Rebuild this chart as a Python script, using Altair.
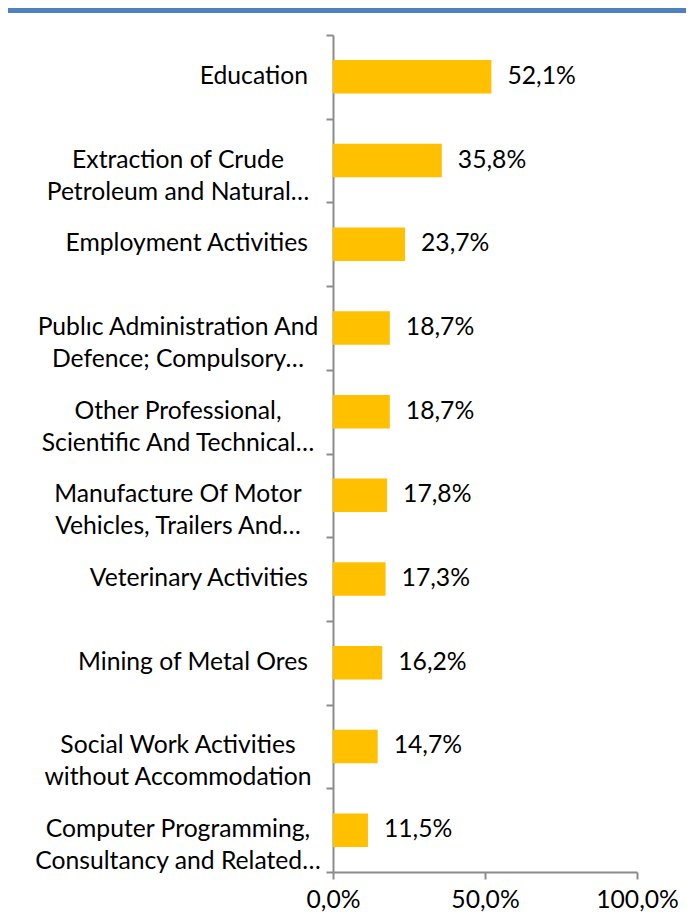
import altair as alt
import pandas as pd

categories = [
    "Education",
    "Extraction of Crude\nPetroleum and Natural…",
    "Employment Activities",
    "Publıc Administration And\nDefence; Compulsory…",
    "Other Professional,\nScientific And Technical…",
    "Manufacture Of Motor\nVehicles, Trailers And…",
    "Veterinary Activities",
    "Mining of Metal Ores",
    "Social Work Activities\nwithout Accommodation",
    "Computer Programming,\nConsultancy and Related…",
]
values = [52.1, 35.8, 23.7, 18.7, 18.7, 17.8, 17.3, 16.2, 14.7, 11.5]
x_ticks = [0, 50, 100]

df = pd.DataFrame({"category": categories, "value": values})

FONT = "Lato"
FS = 24.7
GRAY = "#8c8c8c"
W, H = 304, 837
PL, PT, PR, PB = 325, 27, 49, 41

fmt = "replace(format(datum.value/100, '.1%'), '.', ',')"

y_enc = alt.Y(
    "category:N",
    sort=categories,
    scale=alt.Scale(paddingInner=0, paddingOuter=0),
    axis=alt.Axis(
        labels=False, title=None, tickBand="extent", tickSize=7,
        tickColor=GRAY, domainColor=GRAY, domainWidth=2, tickWidth=2,
    ),
)
x_enc = alt.X(
    "value:Q",
    scale=alt.Scale(domain=[0, 100], nice=False),
    axis=alt.Axis(
        values=x_ticks, labelExpr=fmt, title=None, grid=False,
        tickSize=7, tickColor=GRAY, domainColor=GRAY, domainWidth=2, tickWidth=2,
        labelFont=FONT, labelFontSize=FS, labelColor="black", labelPadding=8,
        labelFlush=False, labelOverlap=False,
    ),
)

base = alt.Chart(df)

bars = base.mark_bar(color="#FFC000", height={"band": 0.4}).encode(x=x_enc, y=y_enc)

vals = base.transform_calculate(lbl=fmt).mark_text(
    align="left", baseline="middle", dx=16, font=FONT, fontSize=FS, color="black"
).encode(x=x_enc, y=y_enc, text="lbl:N")

single = base.transform_filter("indexof(datum.category, '\\n') < 0").mark_text(
    align="right", baseline="middle", font=FONT, fontSize=FS, color="black"
).encode(x=alt.value(-25), y=y_enc, text="category:N")

multi = base.transform_filter("indexof(datum.category, '\\n') >= 0").mark_text(
    align="center", baseline="middle", font=FONT, fontSize=FS, color="black",
    lineBreak="\n", lineHeight=32,
).encode(x=alt.value(-155), y=y_enc, text="category:N")

border = alt.Chart(pd.DataFrame({"a": [0]})).mark_rule(
    color="#4F81BD", strokeWidth=5
).encode(x=alt.value(-PL), x2=alt.value(W + PR), y=alt.value(-PT + 2.5))

chart = alt.layer(bars, vals, single, multi, border).properties(
    width=W, height=H,
    autosize=alt.AutoSizeParams(type="none"),
    padding={"left": PL, "top": PT, "right": PR, "bottom": PB},
).configure_view(stroke=None).configure_axis(grid=False)

chart.save("out.html", embed_options={"renderer": "svg", "actions": False})
